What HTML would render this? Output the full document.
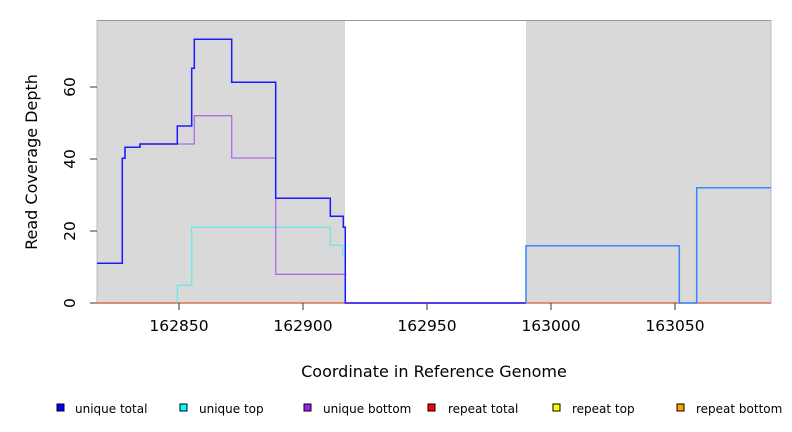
<!DOCTYPE html>
<html><head><style>body{margin:0;background:#fff}svg{display:block}</style></head><body>
<svg width="792" height="432" xmlns="http://www.w3.org/2000/svg" font-family="DejaVu Sans, sans-serif">
<rect x="97" y="20" width="674" height="283" fill="#d9d9d9"/>
<rect x="345" y="20" width="181" height="283" fill="#fff"/>
<line x1="97" y1="20.5" x2="771" y2="20.5" stroke="#999" stroke-width="1"/>
<line x1="97" y1="20" x2="97" y2="303" stroke="#bbb"/>
<line x1="771" y1="20" x2="771" y2="303" stroke="#bbb"/>
<polyline fill="none" stroke="#6ee6e6" stroke-width="1.3" points="97,303 177.3,303 177.3,285.3 191.7,285.3 191.7,227.3 330.3,227.3 330.3,245.3 342.7,245.3 342.7,256 345.3,256 345.3,303"/>
<line x1="97" y1="303" x2="771" y2="303" stroke="#e07050" stroke-width="1.5"/>
<polyline fill="none" stroke="#ad6be8" stroke-width="1.3" points="97,263.3 122.3,263.3 122.3,158.3 125,158.3 125,147.3 140,147.3 140,144 194.3,144 194.3,115.7 231.7,115.7 231.7,158 275.7,158 275.7,274.3 345.3,274.3 345.3,303"/>
<polyline fill="none" stroke="#1a1aff" stroke-width="1.5" points="97,263.3 122.3,263.3 122.3,158.3 125,158.3 125,147.3 140,147.3 140,144 177.3,144 177.3,126 191.7,126 191.7,68.3 194.3,68.3 194.3,39.3 231.7,39.3 231.7,82.3 275.7,82.3 275.7,198.3 330.3,198.3 330.3,216.3 343.3,216.3 343.3,227.3 345.3,227.3 345.3,303 526,303"/>
<polyline fill="none" stroke="#3388ff" stroke-width="1.5" points="526,303 526,245.7 679.3,245.7 679.3,303 696.7,303 696.7,187.7 771,187.7"/>
<g stroke="#333" stroke-width="1">
<line x1="90" y1="303" x2="97" y2="303"/><line x1="90" y1="231" x2="97" y2="231"/><line x1="90" y1="159" x2="97" y2="159"/><line x1="90" y1="87" x2="97" y2="87"/>
<line x1="179" y1="303" x2="179" y2="310"/><line x1="303" y1="303" x2="303" y2="310"/><line x1="427" y1="303" x2="427" y2="310"/><line x1="551" y1="303" x2="551" y2="310"/><line x1="675" y1="303" x2="675" y2="310"/>
</g>
<g font-size="15.5" fill="#000" text-anchor="middle">
<text x="179" y="331">162850</text><text x="303" y="331">162900</text><text x="427" y="331">162950</text><text x="551" y="331">163000</text><text x="675" y="331">163050</text>
<text transform="translate(75,303) rotate(-90)">0</text>
<text transform="translate(75,231) rotate(-90)">20</text>
<text transform="translate(75,159) rotate(-90)">40</text>
<text transform="translate(75,87) rotate(-90)">60</text>
</g>
<g font-size="16" fill="#000" text-anchor="middle">
<text x="434" y="377">Coordinate in Reference Genome</text>
<text transform="translate(37,162) rotate(-90)">Read Coverage Depth</text>
</g>
<g font-size="12" fill="#000" stroke-width="1">
<rect x="57" y="404" width="7" height="7" fill="#0000ff" stroke="#000"/><text x="75" y="413">unique total</text>
<rect x="180" y="404" width="7" height="7" fill="#00ffff" stroke="#000"/><text x="199" y="413">unique top</text>
<rect x="304" y="404" width="7" height="7" fill="#a020f0" stroke="#000"/><text x="323" y="413">unique bottom</text>
<rect x="428" y="404" width="7" height="7" fill="#ff0000" stroke="#000"/><text x="448" y="413">repeat total</text>
<rect x="553" y="404" width="7" height="7" fill="#ffff00" stroke="#000"/><text x="572" y="413">repeat top</text>
<rect x="677" y="404" width="7" height="7" fill="#ffa500" stroke="#000"/><text x="696" y="413">repeat bottom</text>
</g>
</svg>
</body></html>
